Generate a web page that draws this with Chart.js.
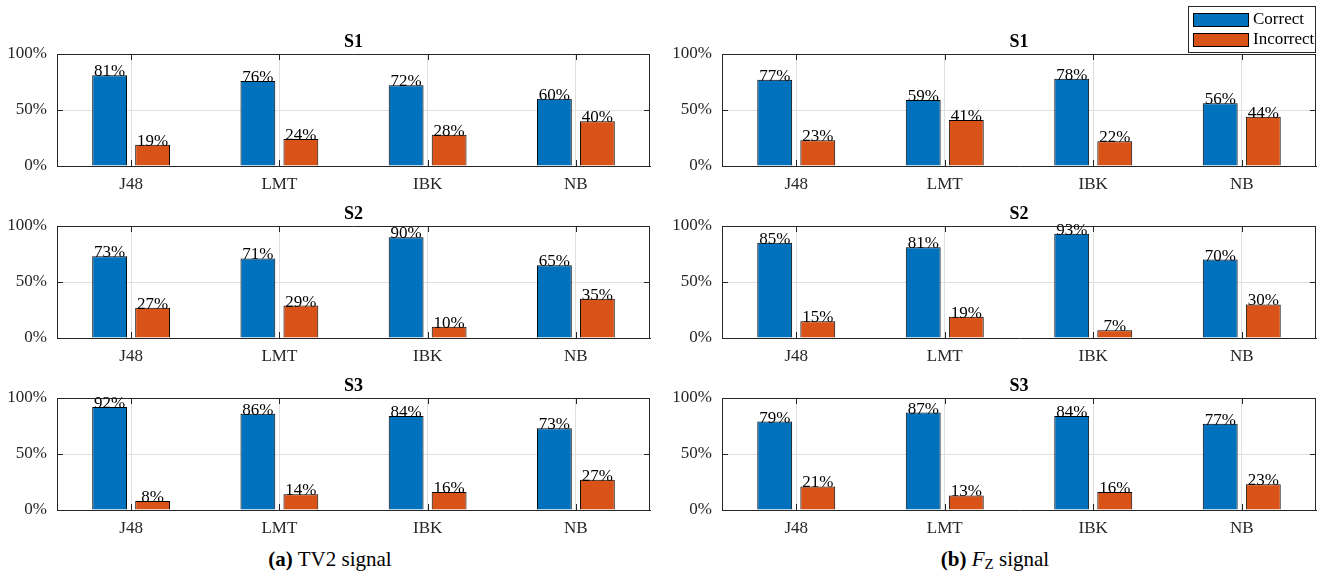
<!DOCTYPE html>
<html>
<head>
<meta charset="utf-8">
<script src="https://cdn.jsdelivr.net/npm/chart.js@4.4.0/dist/chart.umd.min.js"></script>
<style>
  body { margin: 0; background: #fff; width: 1320px; height: 577px; position: relative; overflow: hidden;
         font-family: "Liberation Serif", "Times New Roman", Times, "Nimbus Roman", "DejaVu Serif", serif; }
  canvas { position: absolute; }
  .cap { position: absolute; top: 546px; height: 26px; line-height: 26px; font-size: 21px; color: #000; text-align: center; }
  .cap sub { font-size: 15px; line-height: 0; vertical-align: -3px; }
</style>
</head>
<body>
<div id="root"></div>
<div class="cap" style="left:0;width:660px;"><b>(a)</b> TV2 signal</div>
<div class="cap" style="left:660px;width:670px;"><b>(b)</b> <i>F</i><sub>Z</sub> signal</div>
<script>
const classifiers = ['J48', 'LMT', 'IBK', 'NB'];
const sessions = ['S1', 'S2', 'S3'];
const seriesNames = ['Correct', 'Incorrect'];

// rows = S1, S2, S3
const tv2Correct   = [[81, 76, 72, 60], [73, 71, 90, 65], [92, 86, 84, 73]];
const tv2Incorrect = [[19, 24, 28, 40], [27, 29, 10, 35], [8, 14, 16, 27]];
const fzCorrect    = [[77, 59, 78, 56], [85, 81, 93, 70], [79, 87, 84, 77]];
const fzIncorrect  = [[23, 41, 22, 44], [15, 19, 7, 30], [21, 13, 16, 23]];

const blue = '#0072BD';
const orange = '#D95319';
const axisColor = '#262626';
const serif = '"Liberation Serif", "Times New Roman", Times, "Nimbus Roman", "DejaVu Serif", serif';

// box, inner ticks, title, value labels and legend, drawn the matlab way
const matlabLook = {
  id: 'matlabLook',
  afterDatasetsDraw(chart) {
    const ctx = chart.ctx;
    ctx.save();
    ctx.font = '17px ' + serif;
    ctx.fillStyle = '#000';
    ctx.textAlign = 'center';
    ctx.textBaseline = 'alphabetic';
    chart.data.datasets.forEach((ds, i) => {
      chart.getDatasetMeta(i).data.forEach((bar, j) => {
        ctx.fillText(ds.data[j] + '%', bar.x, bar.y + 1);
      });
    });
    ctx.restore();
  },
  afterDraw(chart, args, opts) {
    const ctx = chart.ctx;
    const a = chart.chartArea;
    ctx.save();
    ctx.strokeStyle = axisColor;
    ctx.lineWidth = 1;
    ctx.beginPath();
    ctx.moveTo(a.left, a.top + 0.5); ctx.lineTo(a.right, a.top + 0.5);
    ctx.moveTo(a.right - 0.5, a.top); ctx.lineTo(a.right - 0.5, a.bottom);
    const xs = chart.scales.x;
    for (let i = 0; i < classifiers.length; i++) {
      const px = Math.round(xs.getPixelForTick(i)) + 0.5;
      ctx.moveTo(px, a.bottom); ctx.lineTo(px, a.bottom - 6);
      ctx.moveTo(px, a.top); ctx.lineTo(px, a.top + 6);
    }
    const py = Math.round(chart.scales.y.getPixelForValue(50)) + 0.5;
    ctx.moveTo(a.left, py); ctx.lineTo(a.left + 6, py);
    ctx.moveTo(a.right, py); ctx.lineTo(a.right - 6, py);
    ctx.stroke();

    ctx.fillStyle = '#000';
    ctx.font = 'bold 18px ' + serif;
    ctx.textAlign = 'center';
    ctx.textBaseline = 'alphabetic';
    ctx.fillText(opts.title, (a.left + a.right) / 2, a.top - 7);

    if (opts.legend) {
      const lx = opts.legend.x, ly = opts.legend.y;
      ctx.fillStyle = '#fff';
      ctx.fillRect(lx, ly, 128, 47);
      ctx.strokeStyle = axisColor;
      ctx.strokeRect(lx + 0.5, ly + 0.5, 127, 46);
      ctx.font = '17px ' + serif;
      ctx.textAlign = 'left';
      ctx.textBaseline = 'middle';
      chart.data.datasets.forEach((ds, i) => {
        const sy = ly + 7 + i * 20;
        ctx.fillStyle = ds.backgroundColor;
        ctx.fillRect(lx + 5, sy, 56, 14);
        ctx.strokeStyle = '#000';
        ctx.strokeRect(lx + 5.5, sy + 0.5, 55, 13);
        ctx.fillStyle = '#000';
        ctx.fillText(ds.label, lx + 65, sy + 7);
      });
    }
    ctx.restore();
  }
};

const root = document.getElementById('root');
const rowTops = [0, 196, 368];
const rowHeights = [196, 172, 172];
const rowPad = [54, 30, 30];

function makePanel(col, row, correct, incorrect) {
  const cv = document.createElement('canvas');
  const left = col * 660;
  cv.width = 660;
  cv.height = rowHeights[row];
  cv.style.left = left + 'px';
  cv.style.top = rowTops[row] + 'px';
  root.appendChild(cv);

  const yWidth = col === 0 ? 57 : 62;
  const padRight = col === 0 ? 10 : 4;
  const legend = (col === 1 && row === 0) ? { x: 1188 - 660, y: 6 } : null;

  new Chart(cv.getContext('2d'), {
    type: 'bar',
    data: {
      labels: classifiers,
      datasets: [
        { label: seriesNames[0], data: correct, backgroundColor: blue, borderColor: '#000', borderWidth: 1 },
        { label: seriesNames[1], data: incorrect, backgroundColor: orange, borderColor: '#000', borderWidth: 1 }
      ]
    },
    options: {
      responsive: false,
      animation: false,
      layout: { padding: { top: rowPad[row], right: padRight, left: 0, bottom: 0 } },
      datasets: { bar: { categoryPercentage: 0.58, barPercentage: 0.81 } },
      plugins: {
        legend: { display: false },
        tooltip: { enabled: false },
        matlabLook: { title: sessions[row], legend: legend }
      },
      scales: {
        x: {
          afterFit(s) { s.height = 30; },
          grid: { offset: false, color: '#dfdfdf', drawTicks: false },
          border: { color: axisColor, width: 1 },
          ticks: { color: axisColor, font: { family: serif, size: 17 }, padding: 8, maxRotation: 0 }
        },
        y: {
          min: 0, max: 100,
          afterFit(s) { s.width = yWidth; },
          grid: { color: '#dfdfdf', drawTicks: false },
          border: { color: axisColor, width: 1 },
          ticks: { stepSize: 50, color: axisColor, font: { family: serif, size: 17 }, padding: 10,
                   callback: v => v + '%' }
        }
      }
    },
    plugins: [matlabLook]
  });
}

for (let r = 0; r < 3; r++) {
  makePanel(0, r, tv2Correct[r], tv2Incorrect[r]);
  makePanel(1, r, fzCorrect[r], fzIncorrect[r]);
}
</script>
</body>
</html>
